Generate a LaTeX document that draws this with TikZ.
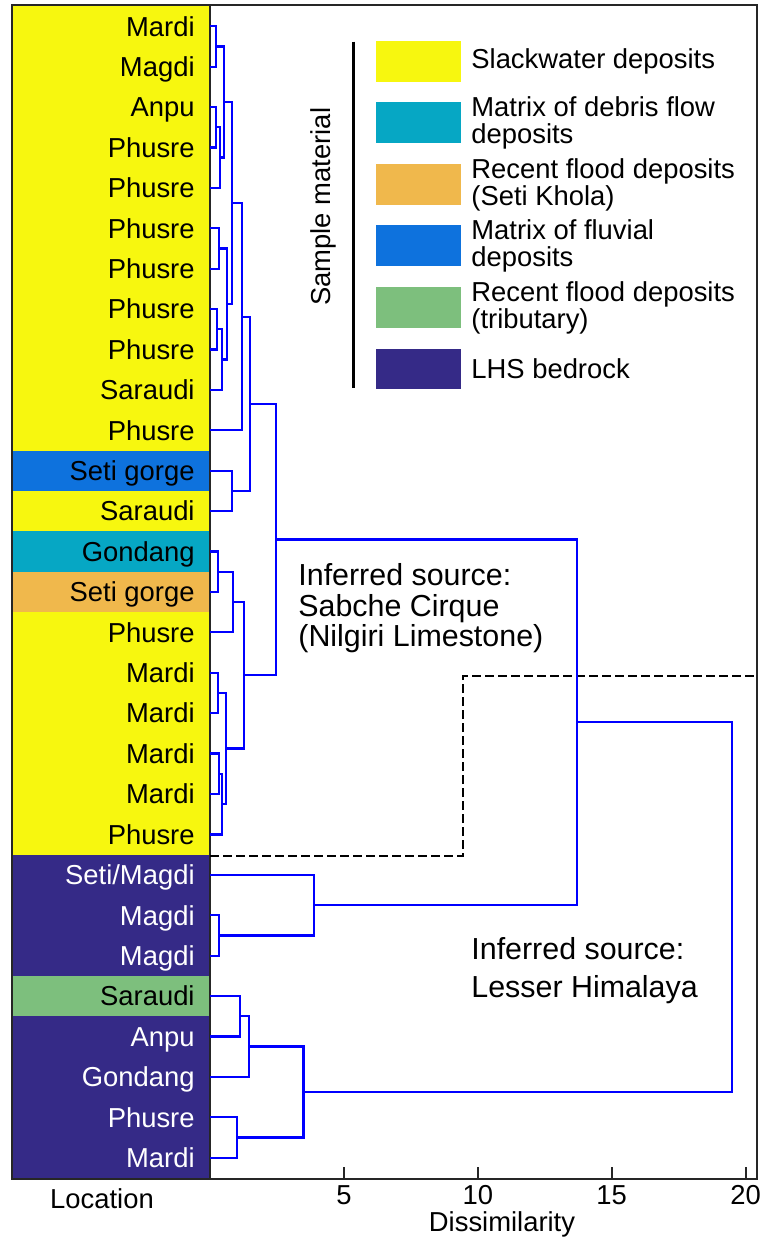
\documentclass[tikz,border=0pt]{standalone}
\usepackage{fontspec}
\setmainfont{Liberation Sans}
\definecolor{slackwater}{HTML}{F7F70F}
\definecolor{debris}{HTML}{06A7C4}
\definecolor{floodseti}{HTML}{F0B84C}
\definecolor{fluvial}{HTML}{0E72DD}
\definecolor{floodtrib}{HTML}{7DBF7D}
\definecolor{bedrock}{HTML}{352A87}
\def\link(#1)(#2)(#3){\draw[dendro] (#1) -| (#2) |- (#3);}

\begin{document}
\begin{tikzpicture}[x=0.5pt,y=-0.5pt,
	dendro/.style={blue,line width=1.1pt},
	frame/.style={black!85,line width=1pt},
	lbl/.style={font=\fontsize{13.7}{13.5}\selectfont,inner sep=0pt,text height=9.8pt,text depth=0pt},
	legtext/.style={font=\fontsize{13.7}{13.5}\selectfont,inner sep=0pt,align=left,anchor=west},
	note/.style={font=\fontsize{15.2}{15.3}\selectfont,inner sep=0pt,align=left,anchor=north west}]
				%%%%% START %%%%%
				\def\ytop{6}
				\def\ybot{1179}
				\def\rowh{40.41}
				\def\xleft{12}
				\def\xcol{210}
				\def\xright{757}
				\def\dunit{26.78}

				\useasboundingbox (0,0) rectangle (763,1241);

				% location column
				\foreach \name/\fillc/\txtc [count=\i from 0] in {Mardi/slackwater/black,Magdi/slackwater/black,Anpu/slackwater/black,
					Phusre/slackwater/black,Phusre/slackwater/black,Phusre/slackwater/black,Phusre/slackwater/black,Phusre/slackwater/black,
					Phusre/slackwater/black,Saraudi/slackwater/black,Phusre/slackwater/black,Seti gorge/fluvial/black,Saraudi/slackwater/black,
					Gondang/debris/black,Seti gorge/floodseti/black,Phusre/slackwater/black,Mardi/slackwater/black,Mardi/slackwater/black,
					Mardi/slackwater/black,Mardi/slackwater/black,Phusre/slackwater/black,{Seti/Magdi}/bedrock/white,Magdi/bedrock/white,
					Magdi/bedrock/white,Saraudi/floodtrib/black,Anpu/bedrock/white,Gondang/bedrock/white,Phusre/bedrock/white,Mardi/bedrock/white}{
					\fill[\fillc] (\xleft,{\ytop+\rowh*\i}) rectangle (\xcol,{\ytop+\rowh*(\i+1)});
					\node[lbl,anchor=east,text=\txtc] (lab\i) at (195,{\ytop+\rowh*(\i+0.5)}) {\name};
				}

				\draw[frame] (\xleft,5) rectangle (\xright,\ybot);
				\draw[frame,line width=1.3pt] (\xleft,5) rectangle (\xcol,\ybot);

				% axis
				\foreach \v in {5,10,15,20}{
					\draw[frame] ({\xcol+\dunit*\v},\ybot) -- ++(0,-12);
					\node[lbl] (num\v) at ({\xcol+\dunit*\v},1195) {\v};
				}
				\node[lbl] (locn) at (102,1199) {Location};
				\node[lbl] (dissim) at (502,1222) {Dissimilarity};

				% legend
				\draw[black,line width=1.2pt] (353.3,41.7) -- (353.3,388.3);
				\node[lbl,rotate=90] (matl) at (320.5,206.7) {Sample material};
				\foreach \c [count=\k from 0] in {slackwater,debris,floodseti,fluvial,floodtrib,bedrock}
					\fill[\c] (376,{41+61.5*\k}) rectangle (461,{81.7+61.5*\k});
				\node[legtext] (legA) at (471,61.5) {Slackwater deposits};
				\node[legtext] (legB) at (471,123) {Matrix of debris flow\\deposits};
				\node[legtext] (legC) at (471,184.5) {Recent flood deposits\\(Seti Khola)};
				\node[legtext] (legD) at (471,246) {Matrix of fluvial\\deposits};
				\node[legtext] (legE) at (471,307.5) {Recent flood deposits\\(tributary)};
				\node[legtext] (legF) at (471,369) {LHS bedrock};

				% sources
				\node[note] (srcA) at (298,563) {Inferred source:\\Sabche Cirque\\(Nilgiri Limestone)};
				\node[note,font=\fontsize{15.2}{18.85}\selectfont] (srcB) at (471,937) {Inferred source:\\Lesser Himalaya};
				\draw[black,line width=1pt,dash pattern=on 4.5pt off 2pt] (\xcol,855.7) -- (463.3,855.7) -- (463.3,675.7) -- (\xright,675.7);

				% dendrogram
				\begin{scope}[shift={(105pt,-13.1pt)},x=13.39pt,y=-20.205pt]
					\foreach \i in {0,...,28} \coordinate (leaf\i) at (0,\i);
					\coordinate (m1) at (0.21,0.5);
					\coordinate (m2) at (0.21,2.5);
					\coordinate (m3) at (0.37,3.25);
					\coordinate (m4) at (0.52,1.875);
					\coordinate (m5) at (0.34,5.5);
					\coordinate (m6) at (0.27,7.5);
					\coordinate (m7) at (0.46,8.25);
					\coordinate (m8) at (0.63,6.875);
					\coordinate (m9) at (0.81,4.375);
					\coordinate (m10) at (1.19,7.1875);
					\coordinate (m11) at (0.81,11.5);
					\coordinate (m12) at (1.50,9.34375);
					\coordinate (m13) at (0.29,13.5);
					\coordinate (m14) at (0.85,14.25);
					\coordinate (m15) at (0.31,16.5);
					\coordinate (m16) at (0.35,18.5);
					\coordinate (m17) at (0.46,19.25);
					\coordinate (m18) at (0.59,17.875);
					\coordinate (m19) at (1.28,16.0625);
					\coordinate (m20) at (2.46,12.703);
					\coordinate (m21) at (0.35,22.5);
					\coordinate (m22) at (3.87,21.75);
					\coordinate (m23) at (13.69,17.227);
					\coordinate (m24) at (1.12,24.5);
					\coordinate (m25) at (1.47,25.25);
					\coordinate (m26) at (1.00,27.5);
					\coordinate (m27) at (3.49,26.375);
					\coordinate (m28) at (19.50,21.801);

					\link(leaf0)(m1)(leaf1)
					\link(leaf2)(m2)(leaf3)
					\link(m2)(m3)(leaf4)
					\link(m1)(m4)(m3)
					\link(leaf5)(m5)(leaf6)
					\link(leaf7)(m6)(leaf8)
					\link(m6)(m7)(leaf9)
					\link(m5)(m8)(m7)
					\link(m4)(m9)(m8)
					\link(m9)(m10)(leaf10)
					\link(leaf11)(m11)(leaf12)
					\link(m10)(m12)(m11)
					\link(leaf13)(m13)(leaf14)
					\link(m13)(m14)(leaf15)
					\link(leaf16)(m15)(leaf17)
					\link(leaf18)(m16)(leaf19)
					\link(m16)(m17)(leaf20)
					\link(m15)(m18)(m17)
					\link(m14)(m19)(m18)
					\link(m12)(m20)(m19)
					\link(leaf22)(m21)(leaf23)
					\link(leaf21)(m22)(m21)
					\link(m20)(m23)(m22)
					\link(leaf24)(m24)(leaf25)
					\link(m24)(m25)(leaf26)
					\link(leaf27)(m26)(leaf28)
					\link(m25)(m27)(m26)
					\link(m23)(m28)(m27)
				\end{scope}
				%%%%% START %%%%%
\end{tikzpicture}
\end{document}
